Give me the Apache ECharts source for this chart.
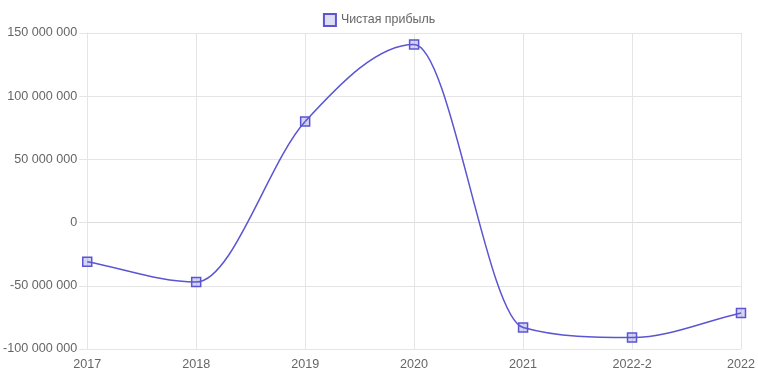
<!DOCTYPE html>
<html><head><meta charset="utf-8">
<script src="https://cdn.jsdelivr.net/npm/echarts@6/dist/echarts.min.js"></script>
<style>html,body{margin:0;padding:0;background:#fff}#c{width:758px;height:379px}</style>
</head><body><div id="c"></div>
<script>
const categories = ['2017','2018','2019','2020','2021','2022-2','2022'];
const profit = [-31000000,-47000000,80000000,141000000,-83000000,-91000000,-71500000];
const seriesName = 'Чистая прибыль';

const lineColor = '#5b55d2';
const chart = echarts.init(document.getElementById('c'));
const fmt = v => {
  const s = Math.abs(v).toString().replace(/\B(?=(\d{3})+(?!\d))/g, ' ');
  return (v < 0 ? '-' : '') + s;
};

// Monotone cubic (Fritsch–Carlson) tangents, computed on pixel coords from the axes
function monotoneControls(api) {
  const pts = profit.map((v, i) => api.coord([i, v]));
  const n = pts.length;
  const d = new Array(n).fill(0), m = new Array(n);
  for (let i = 0; i < n; i++) {
    if (i < n - 1) {
      const dx = pts[i + 1][0] - pts[i][0];
      d[i] = dx !== 0 ? (pts[i + 1][1] - pts[i][1]) / dx : 0;
    }
    if (i === 0) m[i] = d[0];
    else if (i === n - 1) m[i] = d[i - 1];
    else if (Math.sign(d[i - 1]) !== Math.sign(d[i])) m[i] = 0;
    else m[i] = (d[i - 1] + d[i]) / 2;
  }
  for (let i = 0; i < n - 1; i++) {
    if (Math.abs(d[i]) < 1e-9) { m[i] = m[i + 1] = 0; continue; }
    const a = m[i] / d[i], b = m[i + 1] / d[i];
    const sq = a * a + b * b;
    if (sq <= 9) continue;
    const tau = 3 / Math.sqrt(sq);
    m[i] = a * tau * d[i];
    m[i + 1] = b * tau * d[i];
  }
  return pts.map((p, i) => {
    const c = {p: p, before: p, after: p};
    if (i > 0) { const dx = (p[0] - pts[i - 1][0]) / 3; c.before = [p[0] - dx, p[1] - dx * m[i]]; }
    if (i < n - 1) { const dx = (pts[i + 1][0] - p[0]) / 3; c.after = [p[0] + dx, p[1] + dx * m[i]]; }
    return c;
  });
}

chart.setOption({
  animation: false,
  textStyle: {fontFamily: 'Liberation Sans, Arial, sans-serif'},
  legend: {
    top: 8, left: 'center', itemWidth: 12, itemHeight: 12, itemGap: 8,
    textStyle: {color: '#666', fontSize: 12.4},
    data: [{name: seriesName, icon: 'rect', itemStyle: {color: 'rgba(91,85,210,0.2)', borderColor: lineColor, borderWidth: 2}}]
  },
  grid: {left: 87, right: 17, top: 33, bottom: 30, containLabel: false},
  xAxis: {
    type: 'category', data: categories, boundaryGap: false,
    axisLine: {show: true, lineStyle: {color: '#ddd'}},
    axisTick: {show: true, length: 8, lineStyle: {color: '#e5e5e5'}},
    axisLabel: {color: '#666', fontSize: 12.6, margin: 9},
    splitLine: {show: true, lineStyle: {color: '#e5e5e5'}}
  },
  yAxis: {
    type: 'value', min: -100000000, max: 150000000, interval: 50000000,
    axisLine: {show: true, lineStyle: {color: '#e5e5e5'}},
    axisTick: {show: true, length: 8, lineStyle: {color: '#e5e5e5'}},
    axisLabel: {color: '#666', fontSize: 12.6, margin: 10, formatter: fmt},
    splitLine: {show: true, lineStyle: {color: '#e5e5e5'}}
  },
  series: [{
    name: 'curve', type: 'custom', z: 2, silent: true,
    data: profit.map((v, i) => [i, v]),
    renderItem: function (params, api) {
      const i = params.dataIndex;
      if (i >= profit.length - 1) return null;
      const cs = monotoneControls(api);
      const a = cs[i], b = cs[i + 1];
      return {
        type: 'bezierCurve',
        shape: {x1: a.p[0], y1: a.p[1], x2: b.p[0], y2: b.p[1],
                cpx1: a.after[0], cpy1: a.after[1], cpx2: b.before[0], cpy2: b.before[1]},
        style: {stroke: lineColor, fill: null, lineWidth: 1.5}
      };
    }
  }, {
    name: seriesName, type: 'line', data: profit, z: 3,
    symbol: 'rect', symbolSize: 9,
    lineStyle: {opacity: 0},
    itemStyle: {color: 'rgba(91,85,210,0.25)', borderColor: lineColor, borderWidth: 1.5}
  }]
});
</script></body></html>
